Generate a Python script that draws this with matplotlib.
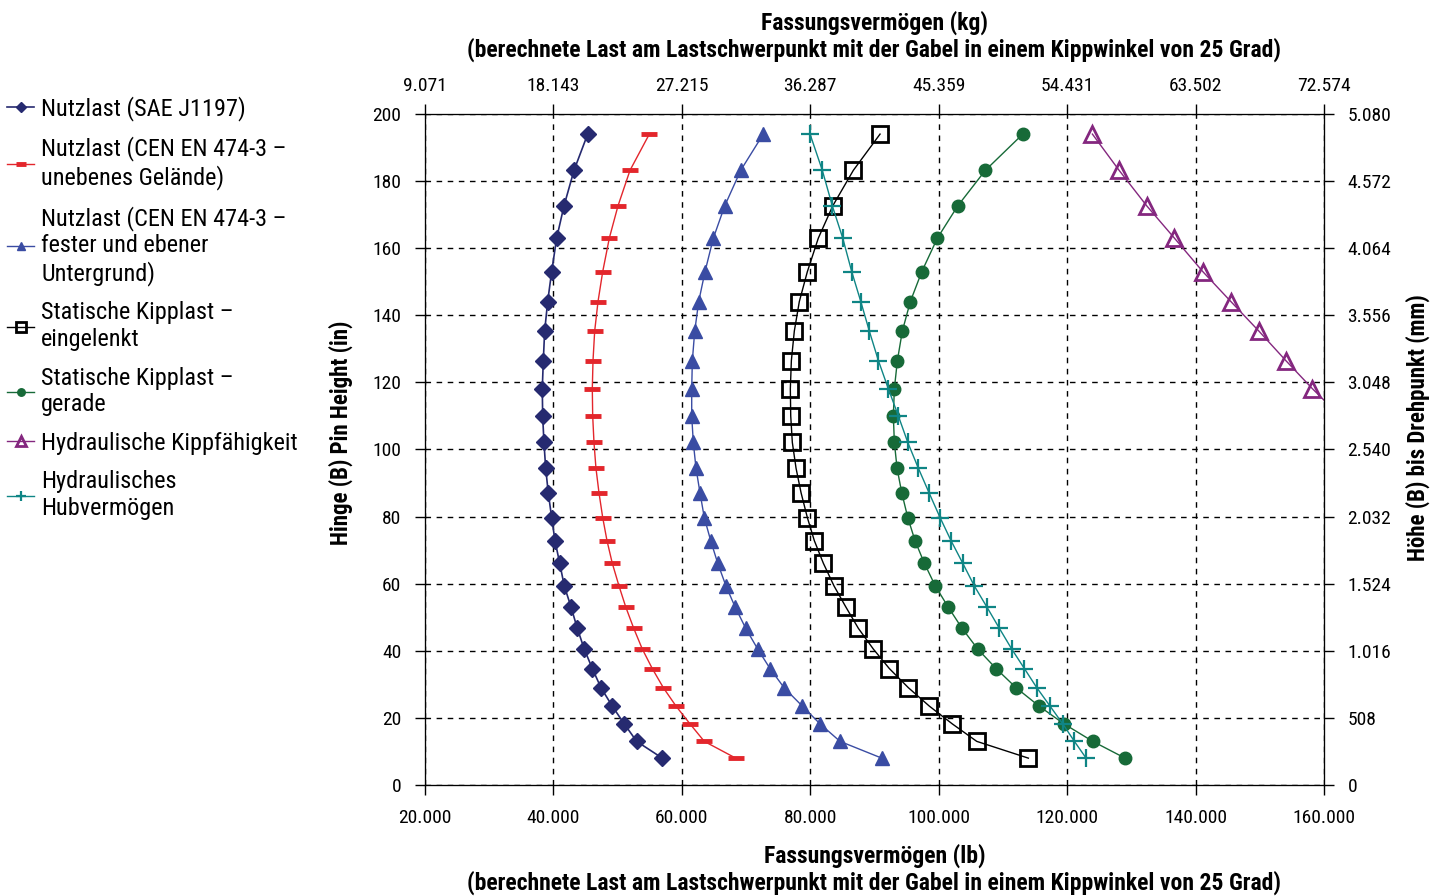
import numpy as np
import matplotlib
matplotlib.use('Agg')
import matplotlib.pyplot as plt

plt.rcParams['font.family'] = ['Roboto Condensed', 'Roboto', 'DejaVu Sans']

# hinge pin heights (in), shared by all series
height_in = [194.0, 183.2, 172.6, 163.0, 153.0, 144.1, 135.3, 126.5, 118.1, 110.0,
             102.1, 94.4, 87.1, 79.7, 72.8, 66.1, 59.3, 53.1, 46.7, 40.5,
             34.7, 29.0, 23.5, 18.2, 13.0, 8.0]

# capacities (lb)
sae_j1197 = [45340, 43210, 41650, 40510, 39730, 39110, 38640, 38430, 38270, 38330,
             38530, 38800, 39200, 39730, 40250, 40980, 41700, 42740, 43720, 44810,
             46060, 47410, 49170, 51040, 52970, 56960]
cen_uneben = [54940, 51930, 50060, 48710, 47680, 46950, 46430, 46170, 46060, 46120,
              46320, 46630, 47100, 47680, 48350, 49170, 50220, 51260, 52510, 53850,
              55400, 57120, 59100, 61280, 63500, 68400]
cen_fest = [72690, 69170, 66680, 64910, 63610, 62630, 62010, 61640, 61540, 61540,
            61790, 62210, 62830, 63500, 64500, 65590, 66880, 68290, 69950, 71820,
            73740, 75920, 78770, 81530, 84640, 91140]
kipp_eingelenkt = [90870, 86710, 83500, 81260, 79550, 78300, 77520, 77060, 76900, 76960,
                   77210, 77790, 78570, 79550, 80640, 82040, 83710, 85530, 87490, 89830,
                   92320, 95280, 98550, 102130, 105930, 113970]
kipp_gerade = [113100, 107270, 102970, 99800, 97370, 95590, 94340, 93570, 93100, 92940,
               93100, 93520, 94250, 95190, 96320, 97770, 99480, 101460, 103640, 106090,
               108940, 112050, 115640, 119530, 124000, 129030]
hub = [79970, 81880, 83440, 85060, 86460, 87870, 89200, 90610, 92160, 93720,
       95190, 96840, 98500, 100220, 101930, 103750, 105560, 107490, 109450, 111380,
       113350, 115280, 117350, 119330, 121140, 122960]
# hydraulic tilt capacity, only the upper points are visible (last one runs off the axis)
kippfaehigkeit_in = [194.0, 183.2, 172.6, 163.0, 153.0, 144.1, 135.3, 126.5, 118.1, 110.0]
kippfaehigkeit = [123940, 128100, 132410, 136710, 141140, 145500, 149860, 154060, 158210, 162500]

labels = ['Nutzlast (SAE J1197)',
          'Nutzlast (CEN EN 474-3 –\nunebenes Gelände)',
          'Nutzlast (CEN EN 474-3 –\nfester und ebener\nUntergrund)',
          'Statische Kipplast –\neingelenkt',
          'Statische Kipplast –\ngerade',
          'Hydraulische Kippfähigkeit',
          'Hydraulisches\nHubvermögen']

lb_ticks = [20000, 40000, 60000, 80000, 100000, 120000, 140000, 160000]
lb_labels = ['20.000', '40.000', '60.000', '80.000', '100.000', '120.000', '140.000', '160.000']
kg_labels = ['9.071', '18.143', '27.215', '36.287', '45.359', '54.431', '63.502', '72.574']
in_ticks = [0, 20, 40, 60, 80, 100, 120, 140, 160, 180, 200]
mm_labels = ['0', '508', '1.016', '1.524', '2.032', '2.540', '3.048', '3.556', '4.064', '4.572', '5.080']

title_txt = '(berechnete Last am Lastschwerpunkt mit der Gabel in einem Kippwinkel von 25 Grad)'

fig = plt.figure(figsize=(14.43, 8.96), dpi=100)
ax = fig.add_axes([0.2945, 0.1239, 0.623, 0.7489])

h = []
h += ax.plot(sae_j1197, height_in, '-', color='#262a70', lw=1.2, marker='D', ms=8.5)
h += ax.plot(cen_uneben, height_in, '-', color='#e3262c', lw=1.0, marker='_', ms=11, mew=3.5)
h += ax.plot(cen_fest, height_in, '-', color='#3a4ca3', lw=1.0, marker='^', ms=10)
h += ax.plot(kipp_eingelenkt, height_in, '-', color='black', lw=1.0, marker='s', ms=11,
             mfc='none', mew=2)
h += ax.plot(kipp_gerade, height_in, '-', color='#176a38', lw=1.0, marker='o', ms=9)
h += ax.plot(kippfaehigkeit, kippfaehigkeit_in, '-', color='#84277f', lw=1.0, marker='^', ms=11,
             mfc='none', mew=2)
h += ax.plot(hub, height_in, '-', color='#0f8585', lw=1.0, marker='+', ms=13, mew=1.6)

tick_kw = dict(labelsize=14, length=7, width=1, pad=10)

ax.set_xlim(20000, 160000)
ax.set_ylim(0, 200)
ax.set_xticks(lb_ticks)
ax.set_xticklabels(lb_labels)
ax.set_yticks(in_ticks)
ax.grid(True, color='black', linestyle=(0, (4, 4)), linewidth=1.0)
ax.tick_params(**tick_kw)
ax.set_xlabel('Fassungsvermögen (lb)\n' + title_txt,
              fontsize=17, fontweight='bold', labelpad=12, linespacing=1.15)
ax.set_ylabel('Hinge (B) Pin Height (in)', fontsize=16.5, fontweight='bold', labelpad=14)
ax.yaxis.label.set_y(0.525)
for s in ['left', 'bottom', 'right']:
    ax.spines[s].set_color('black')
ax.spines['top'].set_color('#444444')

ax_top = ax.twiny()
ax_top.set_xlim(ax.get_xlim())
ax_top.set_xticks(lb_ticks)
ax_top.set_xticklabels(kg_labels)
ax_top.tick_params(**tick_kw)
ax_top.tick_params(pad=7)
ax_top.set_xlabel('Fassungsvermögen (kg)\n' + title_txt,
                  fontsize=17, fontweight='bold', labelpad=14, linespacing=1.15)

ax_right = ax.twinx()
ax_right.set_ylim(ax.get_ylim())
ax_right.set_yticks(in_ticks)
ax_right.set_yticklabels(mm_labels)
ax_right.tick_params(**tick_kw)
ax_right.set_ylabel('Höhe (B) bis Drehpunkt (mm)', fontsize=16.5, fontweight='bold', labelpad=10)
ax_right.yaxis.label.set_y(0.532)

fig.legend(h, labels, loc='upper left', bbox_to_anchor=(0.005, 0.893), frameon=False,
           fontsize=17.5, handlelength=1.1, handletextpad=0.3, labelspacing=0.64,
           borderpad=0, borderaxespad=0, markerscale=0.6)

fig.savefig('out.png', dpi=100)
